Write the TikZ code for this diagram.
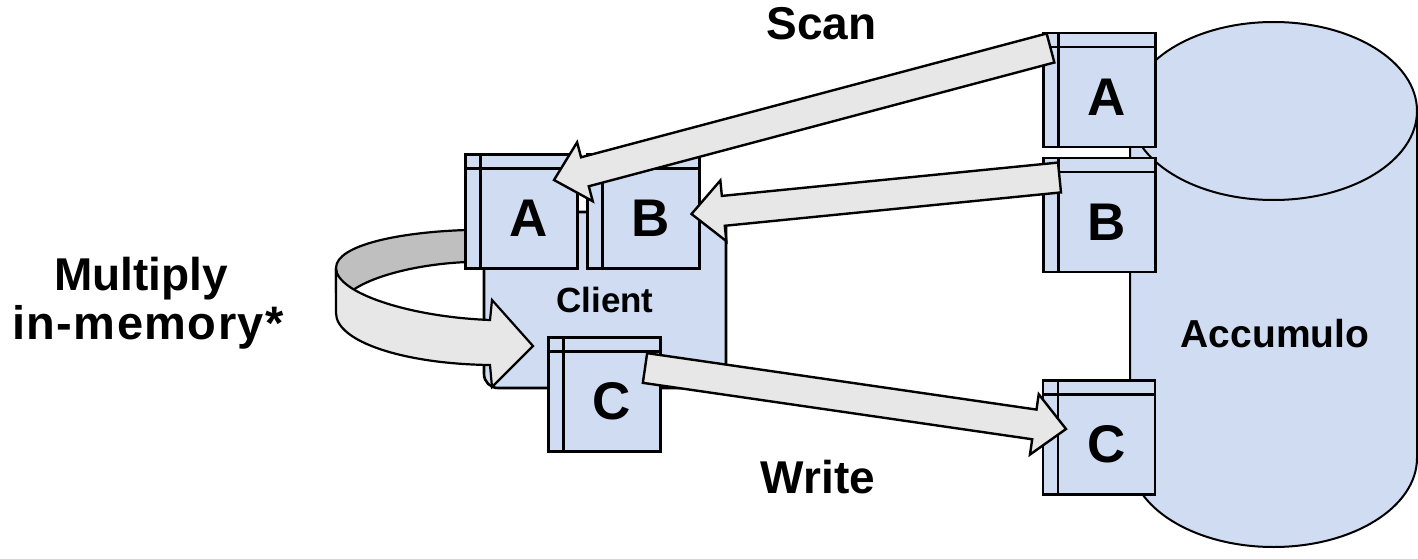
\documentclass[tikz,border=0pt]{standalone}
\usepackage{fontspec}
\setmainfont{Liberation Sans}
\usetikzlibrary{calc}
\definecolor{boxblue}{RGB}{208,220,242}
\definecolor{arrgray}{RGB}{231,231,231}
\definecolor{backgray}{RGB}{191,191,191}
\newcommand\blockarrow[3]{%
  \coordinate (#1base) at ($(#3)!32pt!(#2)$);
  \draw[blockarr] ($(#2)!15pt!90:(#3)$) -- ($(#1base)!15pt!90:(#3)$) -- ($(#1base)!30.5pt!90:(#3)$) -- (#3) -- ($(#1base)!30.5pt!-90:(#3)$) -- ($(#1base)!15pt!-90:(#3)$) -- ($(#2)!15pt!-90:(#3)$) -- cycle;}
\begin{document}
\begin{tikzpicture}[x=1pt,y=-1pt,
  tbl/.style={draw, line width=2.6pt, fill=boxblue, minimum width=112pt, minimum height=114pt, inner sep=0pt,
    path picture={
      \draw[line width=2.6pt] ([xshift=15pt]path picture bounding box.north west) -- ([xshift=15pt]path picture bounding box.south west);
      \draw[line width=2.6pt] ([yshift=-14pt]path picture bounding box.north west) -- ([yshift=-14pt]path picture bounding box.north east);}},
  letter/.style={font=\bfseries\fontsize{53}{53}\selectfont, xshift=7.5pt, yshift=-7pt},
  big/.style={font=\bfseries\fontsize{46}{46}\selectfont, inner sep=0pt},
  blockarr/.style={draw, line width=2.4pt, fill=arrgray, line join=miter},
  client/.style={draw, line width=2.6pt, fill=boxblue, rounded corners=14pt, minimum width=242pt, minimum height=176pt, font=\bfseries\fontsize{35}{35}\selectfont}]
\useasboundingbox (0,0) rectangle (1418,559);

% Accumulo cylinder
\path[draw, fill=boxblue, line width=2pt] (1130,111) -- (1130,458)
  arc[start angle=180, end angle=360, x radius=143.5pt, y radius=89pt] -- (1417,111);
\draw[fill=boxblue, line width=2pt] (1273.5,111) ellipse[x radius=143.5pt, y radius=89pt];
\node[font=\bfseries\fontsize{39}{39}\selectfont] (acc) at (1275,334) {Accumulo};

% client
\node[client] (client) at (605,300) {Client};

% curved multiply ribbon
\path[draw, fill=backgray, line width=2.2pt] (336,292) -- (336,268) .. controls (336,245) and (400,232) .. (467,230)
  -- (467,262) .. controls (420,264) and (375,275) .. (353,290) -- (345,296) -- cycle;
\path[draw, fill=arrgray, line width=2.2pt, line join=miter] (336,268) -- (336,313) .. controls (336,342) and (405,364) .. (490,365)
  -- (492,387) -- (533,346) -- (492,300) -- (490,320) .. controls (410,317) and (336,293) .. (336,268) -- cycle;

% tables
\node[tbl, label={[letter]center:A}] (lA) at (521.5,211.5) {};
\node[tbl, label={[letter]center:B}] (lB) at (643.5,211.5) {};
\node[tbl, label={[letter]center:C}] (lC) at (604.5,394.5) {};
\node[tbl, label={[letter]center:A}] (rA) at (1099.5,90) {};
\node[tbl, label={[letter]center:B}] (rB) at (1099.5,215) {};
\node[tbl, label={[letter]center:C}] (rC) at (1099,437.5) {};

% arrows
\coordinate (sAt) at (1050.5,48);
\coordinate (sAp) at (554,180);
\coordinate (sBt) at (1059.5,177.5);
\coordinate (sBp) at (691.5,214);
\coordinate (wCt) at (645,368);
\coordinate (wCp) at (1066,429);
\blockarrow{a}{sAt}{sAp}
\blockarrow{b}{sBt}{sBp}
\blockarrow{c}{wCt}{wCp}

% labels
\node[big, anchor=base] (scan) at (821.5,40) {Scan};
\node[big, anchor=base] (write) at (818,493) {Write};
\node[big, anchor=base] (mult) at (141,290) {Multiply};
\node[big, anchor=base, font=\bfseries\fontsize{47}{47}\selectfont] (inmem) at (148,339) {\addfontfeature{LetterSpace=3}in-memory*};
\end{tikzpicture}
\end{document}
